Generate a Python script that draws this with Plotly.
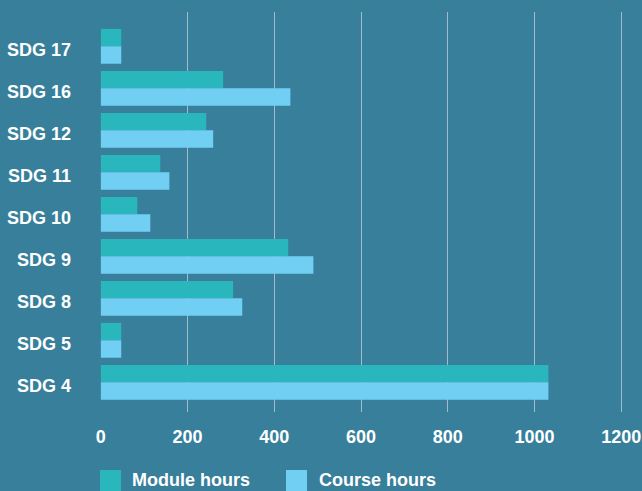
import plotly.graph_objects as go

# Hours per Sustainable Development Goal, listed top to bottom
categories = ["SDG 17", "SDG 16", "SDG 12", "SDG 11", "SDG 10", "SDG 9", "SDG 8", "SDG 5", "SDG 4"]
module_hours = [47, 282, 243, 137, 84, 432, 305, 47, 1032]
course_hours = [47, 437, 259, 158, 114, 490, 326, 47, 1032]
x_ticks = [0, 200, 400, 600, 800, 1000, 1200]

BG = "#377f9b"
MODULE_COLOR = "#29b7bd"
COURSE_COLOR = "#72cff4"
GRID_COLOR = "#a3bcc7"
FONT = dict(family="Liberation Sans, Arial, sans-serif", size=18, color="white")

W, H = 642, 491
L, R, T, B = 100, 19, 12, 79

fig = go.Figure()
fig.add_trace(go.Bar(y=categories, x=module_hours, orientation="h", name="Module hours",
                     marker=dict(color=MODULE_COLOR, line=dict(width=0))))
fig.add_trace(go.Bar(y=categories, x=course_hours, orientation="h", name="Course hours",
                     marker=dict(color=COURSE_COLOR, line=dict(width=0))))

fig.update_layout(
    width=W, height=H,
    margin=dict(l=L, r=R, t=T, b=B, pad=0, autoexpand=False),
    paper_bgcolor=BG, plot_bgcolor=BG,
    barmode="group", bargap=0.17, bargroupgap=0,
    showlegend=False,
    font=FONT,
)
fig.update_xaxes(
    range=[-2, 1204], tickvals=x_ticks, ticktext=[f"<b>{v}</b>" for v in x_ticks],
    showgrid=True, gridcolor=GRID_COLOR, gridwidth=1, zeroline=False, showline=False,
    ticks="", ticklabelstandoff=12, tickfont=FONT, automargin=False,
)
fig.update_yaxes(
    type="category", categoryorder="array", categoryarray=categories,
    range=[8.707, -0.817], showticklabels=False,
    showgrid=False, zeroline=False, showline=False,
    ticks="", automargin=False,
)

plot_w = W - L - R
plot_h = H - T - B

def px_x(px):
    return (px - L) / plot_w

def px_y(py):
    return (H - B - py) / plot_h

# Category labels, right-aligned to the left of the bars and sitting slightly low
for cat in categories:
    fig.add_annotation(xref="paper", yref="y", x=px_x(73), y=cat, xanchor="right",
                       yanchor="middle", yshift=-4, text=f"<b>{cat}</b>",
                       showarrow=False, font=FONT)

# Legend keys drawn as large squares below the axis
legend_items = [("Module hours", MODULE_COLOR, 100, 130), ("Course hours", COURSE_COLOR, 286, 317)]
for label, color, sq_x, txt_x in legend_items:
    fig.add_shape(type="rect", xref="paper", yref="paper",
                  x0=px_x(sq_x), x1=px_x(sq_x + 21), y0=px_y(491), y1=px_y(470),
                  fillcolor=color, line=dict(width=0), layer="above")
    fig.add_annotation(xref="paper", yref="paper", x=px_x(txt_x), y=px_y(480),
                       xanchor="left", yanchor="middle", text=f"<b>{label}</b>",
                       showarrow=False, font=FONT)

fig.write_html("out.html")
